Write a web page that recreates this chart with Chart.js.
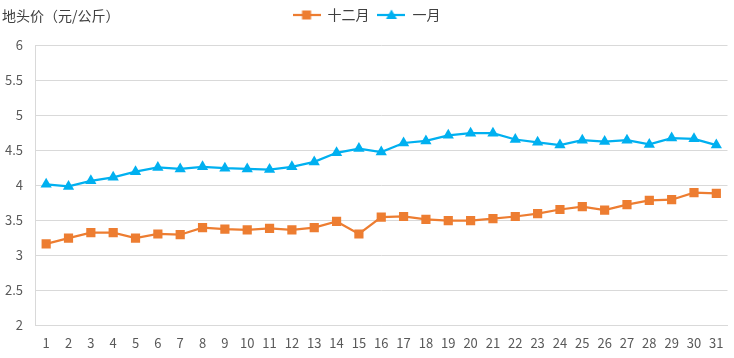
<!DOCTYPE html>
<html>
<head>
<meta charset="utf-8">
<script src="https://cdn.jsdelivr.net/npm/chart.js@4/dist/chart.umd.min.js"></script>
<style>
  html, body { margin: 0; padding: 0; background: #fff; }
  #wrap { width: 734px; height: 358px; position: relative; }
</style>
</head>
<body>
<div id="wrap"><canvas id="c"></canvas></div>
<script>
  // 日期 1..31
  const days = Array.from({ length: 31 }, (_, i) => String(i + 1));

  const decValues = [3.16, 3.24, 3.32, 3.32, 3.24, 3.30, 3.29, 3.39, 3.37, 3.36,
    3.38, 3.36, 3.39, 3.48, 3.30, 3.54, 3.55, 3.51, 3.49, 3.49,
    3.52, 3.55, 3.59, 3.65, 3.69, 3.64, 3.72, 3.78, 3.79, 3.89, 3.88];

  const janValues = [4.01, 3.98, 4.06, 4.11, 4.19, 4.25, 4.23, 4.26, 4.24, 4.23,
    4.22, 4.26, 4.33, 4.46, 4.52, 4.47, 4.60, 4.63, 4.71, 4.74,
    4.74, 4.65, 4.61, 4.57, 4.64, 4.62, 4.64, 4.58, 4.67, 4.66, 4.57];

  const ORANGE = '#ED7D31';
  const BLUE = '#00B0F0';
  const FONT = '"Noto Sans CJK SC", "Microsoft YaHei", sans-serif';

  // legend swatch: line with marker in the middle
  function swatch(color, shape) {
    const cv = document.createElement('canvas');
    cv.width = 28; cv.height = 12;
    const g = cv.getContext('2d');
    g.strokeStyle = color; g.lineWidth = 2.25;
    g.beginPath(); g.moveTo(0, 6); g.lineTo(28, 6); g.stroke();
    g.fillStyle = color;
    if (shape === 'rect') {
      g.fillRect(9.5, 1.5, 9, 9);
    } else {
      g.beginPath(); g.moveTo(14, 0.5); g.lineTo(19.5, 10); g.lineTo(8.5, 10); g.closePath(); g.fill();
    }
    return cv;
  }

  const titleText = {
    id: 'titleText',
    beforeInit(chart) {
      // leave a gap between the legend row and the plot
      const fit = chart.legend.fit;
      chart.legend.fit = function () {
        fit.call(this);
        this.height += 13;
      };
    },
    afterDraw(chart) {
      const ctx = chart.ctx;
      ctx.save();
      ctx.font = '14px ' + FONT;
      ctx.fillStyle = '#404040';
      ctx.textBaseline = 'middle';
      ctx.fillText('地头价（元/公斤）', 2, 16);
      ctx.restore();
    }
  };

  new Chart(document.getElementById('c'), {
    type: 'line',
    data: {
      labels: days,
      datasets: [
        {
          label: '十二月',
          data: decValues,
          borderColor: ORANGE,
          backgroundColor: ORANGE,
          borderWidth: 2.25,
          pointStyle: 'rect',
          pointRadius: 6.5,
          pointHoverRadius: 6.5,
          pointBorderWidth: 0,
          tension: 0
        },
        {
          label: '一月',
          data: janValues,
          borderColor: BLUE,
          backgroundColor: BLUE,
          borderWidth: 2.25,
          pointStyle: 'triangle',
          pointRadius: 6.5,
          pointHoverRadius: 6.5,
          pointBorderWidth: 0,
          tension: 0
        }
      ]
    },
    options: {
      responsive: true,
      maintainAspectRatio: false,
      animation: false,
      layout: { padding: { top: 0, right: 1, left: 0, bottom: 0 } },
      plugins: {
        legend: {
          position: 'top',
          labels: {
            usePointStyle: true,
            pointStyleWidth: 28,
            boxHeight: 12,
            padding: 8,
            color: '#404040',
            font: { size: 14, family: FONT },
            generateLabels(chart) {
              return chart.data.datasets.map((ds, i) => ({
                text: ds.label,
                pointStyle: swatch(ds.borderColor, ds.pointStyle),
                fillStyle: ds.borderColor,
                strokeStyle: ds.borderColor,
                lineWidth: 0,
                fontColor: '#404040',
                datasetIndex: i,
                hidden: false
              }));
            }
          }
        },
        tooltip: { enabled: false }
      },
      scales: {
        x: {
          offset: true,
          grid: { display: false, drawTicks: false },
          border: { color: '#D9D9D9', width: 1 },
          ticks: {
            color: '#595959',
            font: { size: 13, family: FONT },
            padding: 10,
            maxRotation: 0,
            autoSkip: false
          },
          afterFit(axis) { axis.height = 33; }
        },
        y: {
          min: 2,
          max: 6,
          grid: { color: '#D9D9D9', drawTicks: false },
          border: { color: '#D9D9D9', width: 1 },
          ticks: {
            stepSize: 0.5,
            color: '#595959',
            font: { size: 13, family: FONT },
            padding: 12,
            callback: v => String(Math.round(v * 10) / 10)
          },
          afterFit(axis) { axis.width = 35; }
        }
      }
    },
    plugins: [titleText]
  });
</script>
</body>
</html>
